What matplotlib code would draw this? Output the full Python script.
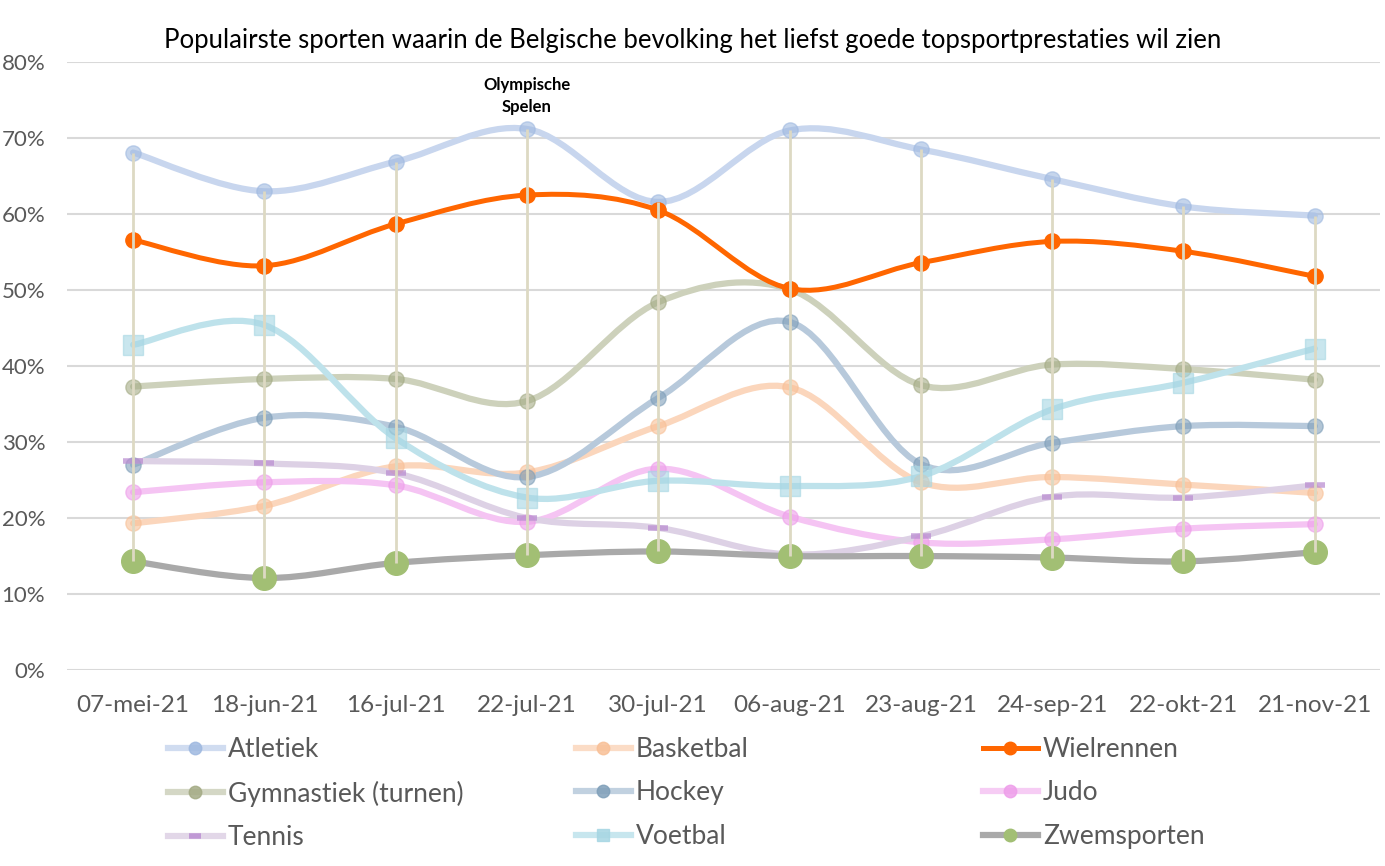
import matplotlib.pyplot as plt
import numpy as np
from matplotlib.path import Path
from matplotlib.patches import PathPatch
from matplotlib.lines import Line2D

plt.rcParams['font.family'] = ['Lato', 'DejaVu Sans']

dates = ['07-mei-21', '18-jun-21', '16-jul-21', '22-jul-21', '30-jul-21',
         '06-aug-21', '23-aug-21', '24-sep-21', '22-okt-21', '21-nov-21']

atletiek = [68.1, 63.0, 66.9, 71.2, 61.6, 71.0, 68.5, 64.6, 61.0, 59.8]
basketbal = [19.3, 21.6, 26.8, 26.0, 32.1, 37.2, 24.7, 25.4, 24.4, 23.3]
wielrennen = [56.6, 53.2, 58.7, 62.5, 60.5, 50.2, 53.6, 56.4, 55.1, 51.8]
gymnastiek = [37.3, 38.3, 38.3, 35.4, 48.4, 50.1, 37.5, 40.2, 39.6, 38.2]
hockey = [27.0, 33.2, 32.0, 25.4, 35.8, 45.8, 27.1, 29.9, 32.1, 32.1]
judo = [23.4, 24.7, 24.3, 19.5, 26.5, 20.2, 16.8, 17.2, 18.6, 19.2]
tennis = [27.5, 27.2, 25.9, 20.0, 18.7, 15.2, 17.6, 22.8, 22.7, 24.3]
voetbal = [42.8, 45.4, 30.5, 22.7, 24.9, 24.2, 25.5, 34.3, 37.8, 42.3]
zwemsporten = [14.3, 12.1, 14.1, 15.1, 15.6, 15.0, 15.0, 14.8, 14.3, 15.5]

series = [
    # name, values, line colour, marker, marker colour, marker size, line width
    ('Atletiek', atletiek, '#c8d6ee', 'o', '#9fb9e0', 11, 4.5),
    ('Basketbal', basketbal, '#fbd6bc', 'o', '#f8c097', 11, 4.5),
    ('Wielrennen', wielrennen, '#ff6600', 'o', '#ff6600', 11, 3.6),
    ('Gymnastiek (turnen)', gymnastiek, '#cdd1bb', 'o', '#a4ab85', 11, 4.5),
    ('Hockey', hockey, '#b7c9db', 'o', '#7f9fb9', 11, 4.5),
    ('Judo', judo, '#f5c4f3', 'o', '#ee9eea', 11, 4.5),
    ('Tennis', tennis, '#ddd1e5', '_', '#bb8fd2', 14, 4.5),
    ('Voetbal', voetbal, '#bee2eb', 's', '#a6d6e3', 15, 4.5),
    ('Zwemsporten', zwemsporten, '#a9a9a9', 'o', '#a2bf74', 17, 4.5),
]


def smooth_path(xs, ys):
    # bezier segments like Excel's smoothed line
    pts = np.column_stack([xs, ys]).astype(float)
    n = len(pts)
    verts = [pts[0]]
    codes = [Path.MOVETO]
    for i in range(n - 1):
        p0 = pts[max(i - 1, 0)]
        p1 = pts[i]
        p2 = pts[i + 1]
        p3 = pts[min(i + 2, n - 1)]
        c1 = p1 + (p2 - p0) / 6
        c2 = p2 - (p3 - p1) / 6
        verts += [c1, c2, p2]
        codes += [Path.CURVE4] * 3
    return Path(verts, codes)


fig = plt.figure(figsize=(13.85, 8.66), dpi=100)
ax = fig.add_axes([0.0487, 0.2263, 0.948, 0.702])

x = np.arange(len(dates))
handles = {}
for name, vals, lc, mk, mc, ms, lw in series:
    z = 4 if name == 'Wielrennen' else 3
    ax.add_patch(PathPatch(smooth_path(x, vals), fill=False, edgecolor=lc,
                           lw=lw, capstyle='round', zorder=z))
    solid = name in ('Wielrennen', 'Zwemsporten')
    if mk == '_':
        ax.plot(x, vals, linestyle='none', marker=mk, markersize=ms,
                markeredgewidth=4, color=mc, alpha=0.75, zorder=z + 0.5)
    else:
        ax.plot(x, vals, linestyle='none', marker=mk, markersize=ms,
                markerfacecolor=mc, markeredgecolor=mc,
                alpha=1.0 if solid else 0.6, zorder=z + 0.5)
    handles[name] = Line2D([], [], color=lc, lw=lw, marker=mk,
                           markersize=9 if mk != '_' else 8,
                           markerfacecolor=mc, markeredgecolor=mc,
                           markeredgewidth=4 if mk == '_' else 1,
                           alpha=1.0 if solid else 0.85)

# high-low lines
all_vals = np.array([s[1] for s in series])
ax.vlines(x, all_vals.min(axis=0), all_vals.max(axis=0), color='#ddd9c3',
          lw=2, zorder=6)

ax.set_xlim(-0.5, len(dates) - 0.5)
ax.set_ylim(0, 80)
ax.set_yticks(range(0, 81, 10))
ax.set_yticklabels([f'{v}%' for v in range(0, 81, 10)])
ax.set_xticks(x)
ax.set_xticklabels(dates)
ax.tick_params(axis='y', length=0, pad=16, labelsize=16, labelcolor='#595959')
ax.tick_params(axis='x', length=0, pad=18, labelsize=17.5,
               labelcolor='#595959')
ax.grid(axis='y', color='#d9d9d9', lw=1.5)
ax.set_axisbelow(True)
for sp in ax.spines.values():
    sp.set_visible(False)

ax.text(3, 75.5, 'Olympische\nSpelen', ha='center', va='center',
        fontsize=12, fontweight='bold', linespacing=1.45)

fig.text(0.5, 0.953, 'Populairste sporten waarin de Belgische bevolking '
         'het liefst goede topsportprestaties wil zien',
         ha='center', va='center', fontsize=18.5)

columns = [['Atletiek', 'Gymnastiek (turnen)', 'Tennis'],
           ['Basketbal', 'Hockey', 'Voetbal'],
           ['Wielrennen', 'Judo', 'Zwemsporten']]
col_x = [168, 576, 983]
for cx, names in zip(col_x, columns):
    fig.legend([handles[n] for n in names], names, loc='upper left',
               bbox_to_anchor=(cx / 1385, 1 - 737 / 866), frameon=False,
               fontsize=19, handlelength=2.08, handletextpad=0.19,
               labelspacing=0.7, labelcolor='#595959', borderaxespad=0,
               borderpad=0)

fig.savefig('out.png', dpi=100)
